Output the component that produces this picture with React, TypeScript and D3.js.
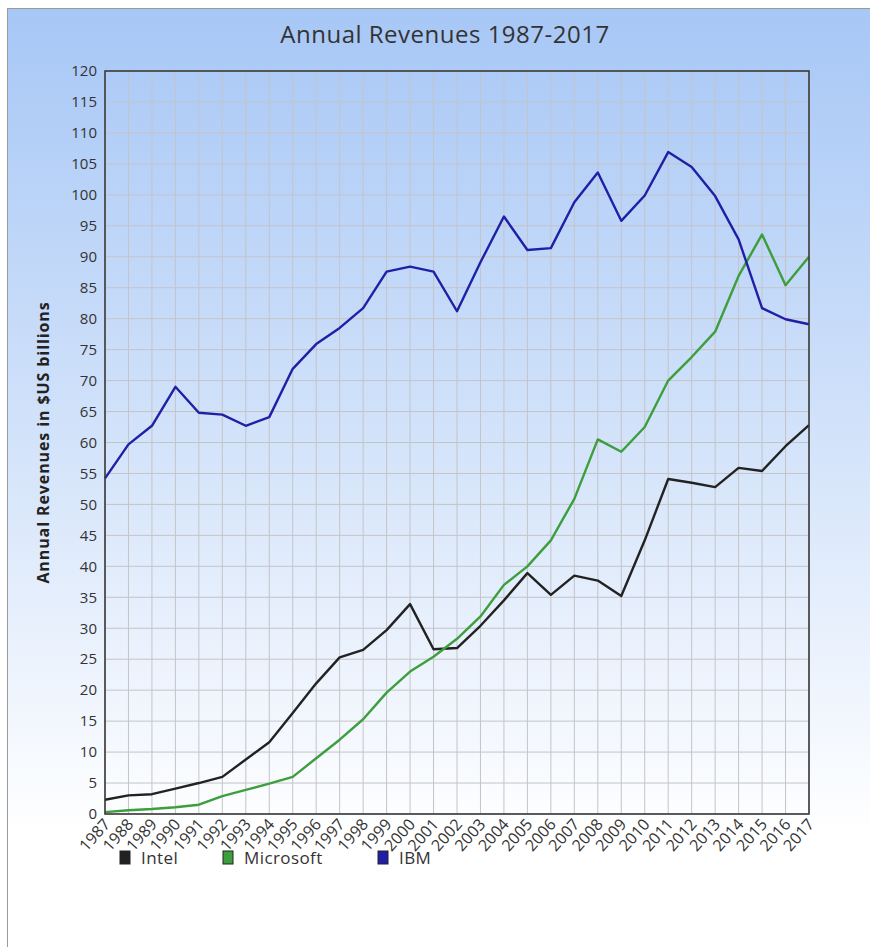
import React, { useEffect, useRef } from 'react';
import * as d3 from 'd3';

const years = d3.range(1987, 2018);

const intel = [2.3, 3.0, 3.2, 4.1, 5.0, 6.0, 8.8, 11.6, 16.3, 21.1, 25.3, 26.5, 29.7, 33.9, 26.6,
  26.8, 30.4, 34.5, 38.9, 35.4, 38.5, 37.7, 35.2, 44.2, 54.1, 53.5, 52.8, 55.9, 55.4, 59.4, 62.8];
const microsoft = [0.3, 0.6, 0.8, 1.1, 1.5, 2.9, 3.9, 4.9, 6.0, 9.0, 12.0, 15.3, 19.6, 23.0, 25.4,
  28.3, 31.9, 37.0, 40.0, 44.2, 50.9, 60.5, 58.5, 62.5, 70.0, 73.8, 77.9, 86.9, 93.6, 85.4, 90.0];
const ibm = [54.2, 59.7, 62.7, 69.0, 64.8, 64.5, 62.7, 64.1, 71.9, 75.9, 78.5, 81.7, 87.6, 88.4, 87.6,
  81.2, 89.1, 96.5, 91.1, 91.4, 98.8, 103.6, 95.8, 99.9, 106.9, 104.5, 99.8, 92.8, 81.7, 79.9, 79.1];

const seriesNames = ['Intel', 'Microsoft', 'IBM'];
const seriesColors = ['#222222', '#3c9e3c', '#2020a6'];
const yTicks = d3.range(0, 121, 5);

const drawChart = (node: SVGSVGElement) => {
  const width = 870;
  const height = 947;
  const m = { left: 105, right: 61, top: 71, bottom: 133 };
  const font = '"Open Sans", "DejaVu Sans", sans-serif';

  const svg = d3.select(node).attr('width', width).attr('height', height);
  svg.selectAll('*').remove();

  const defs = svg.append('defs');
  const grad = defs.append('linearGradient')
    .attr('id', 'bg').attr('x1', 0).attr('y1', 0).attr('x2', 0).attr('y2', 1);
  grad.append('stop').attr('offset', '0%').attr('stop-color', '#a7c7f6');
  grad.append('stop').attr('offset', '45%').attr('stop-color', '#d3e3fa');
  grad.append('stop').attr('offset', '86%').attr('stop-color', '#ffffff');
  grad.append('stop').attr('offset', '100%').attr('stop-color', '#ffffff');

  svg.append('rect')
    .attr('x', 7.5).attr('y', 8.5).attr('width', 880).attr('height', 960)
    .attr('fill', 'url(#bg)').attr('stroke', '#9a9a9a').attr('stroke-width', 1);

  const x = d3.scaleLinear().domain([1987, 2017]).range([m.left, width - m.right]);
  const y = d3.scaleLinear().domain([0, 120]).range([height - m.bottom, m.top]);

  // grid
  svg.append('g').selectAll('line').data(years).enter().append('line')
    .attr('x1', d => x(d)).attr('x2', d => x(d))
    .attr('y1', m.top).attr('y2', height - m.bottom)
    .attr('stroke', '#c4c4c8').attr('stroke-width', 1);
  svg.append('g').selectAll('line').data(yTicks).enter().append('line')
    .attr('x1', m.left).attr('x2', width - m.right)
    .attr('y1', d => y(d)).attr('y2', d => y(d))
    .attr('stroke', '#c4c4c8').attr('stroke-width', 1);

  // y tick labels
  svg.append('g').selectAll('text').data(yTicks).enter().append('text')
    .attr('x', m.left - 8).attr('y', d => y(d)).attr('dy', '0.35em')
    .attr('text-anchor', 'end').attr('font-family', font).attr('font-size', 15)
    .attr('fill', '#333').text(d => d);

  // x tick labels
  svg.append('g').selectAll('text').data(years).enter().append('text')
    .attr('transform', d => `translate(${x(d) + 6},${height - m.bottom + 11}) rotate(-48)`)
    .attr('text-anchor', 'end').attr('font-family', font).attr('font-size', 16)
    .attr('fill', '#333').text(d => d);

  // lines
  const line = d3.line<number>().x((d, i) => x(years[i])).y(d => y(d));
  [intel, microsoft, ibm].forEach((values, i) => {
    svg.append('path').datum(values)
      .attr('d', line).attr('fill', 'none')
      .attr('stroke', seriesColors[i]).attr('stroke-width', 2.4)
      .attr('stroke-linejoin', 'round');
  });

  // plot border
  svg.append('rect')
    .attr('x', m.left).attr('y', m.top)
    .attr('width', width - m.left - m.right).attr('height', height - m.top - m.bottom)
    .attr('fill', 'none').attr('stroke', '#3a3a3a').attr('stroke-width', 1.6);

  // title
  svg.append('text')
    .attr('x', 445).attr('y', 43).attr('text-anchor', 'middle')
    .attr('font-family', font).attr('font-size', 24).attr('letter-spacing', 0.5)
    .attr('fill', '#333')
    .text('Annual Revenues 1987-2017');

  // y axis label
  svg.append('text')
    .attr('transform', `translate(49,${(m.top + height - m.bottom) / 2}) rotate(-90)`)
    .attr('text-anchor', 'middle').attr('font-family', font).attr('font-size', 16)
    .attr('font-weight', 'bold').attr('letter-spacing', 0.9).attr('fill', '#222')
    .text('Annual Revenues in $US billions');

  // legend
  const legendX = [120, 223, 378];
  const lg = svg.append('g').selectAll('g').data(seriesNames).enter().append('g')
    .attr('transform', (d, i) => `translate(${legendX[i]},851)`);
  lg.append('rect').attr('width', 10).attr('height', 13)
    .attr('fill', (d, i) => seriesColors[i]).attr('stroke', '#222').attr('stroke-width', 1);
  lg.append('text').attr('x', 21).attr('y', 7).attr('dy', '0.35em')
    .attr('font-family', font).attr('font-size', 17).attr('letter-spacing', 0.4)
    .attr('fill', '#333')
    .text(d => d);
};

export default function App() {
  const ref = useRef<SVGSVGElement>(null);
  useEffect(() => {
    if (ref.current) drawChart(ref.current);
  }, []);
  return <svg ref={ref} style={{ position: 'absolute', left: 0, top: 0 }} />;
}
